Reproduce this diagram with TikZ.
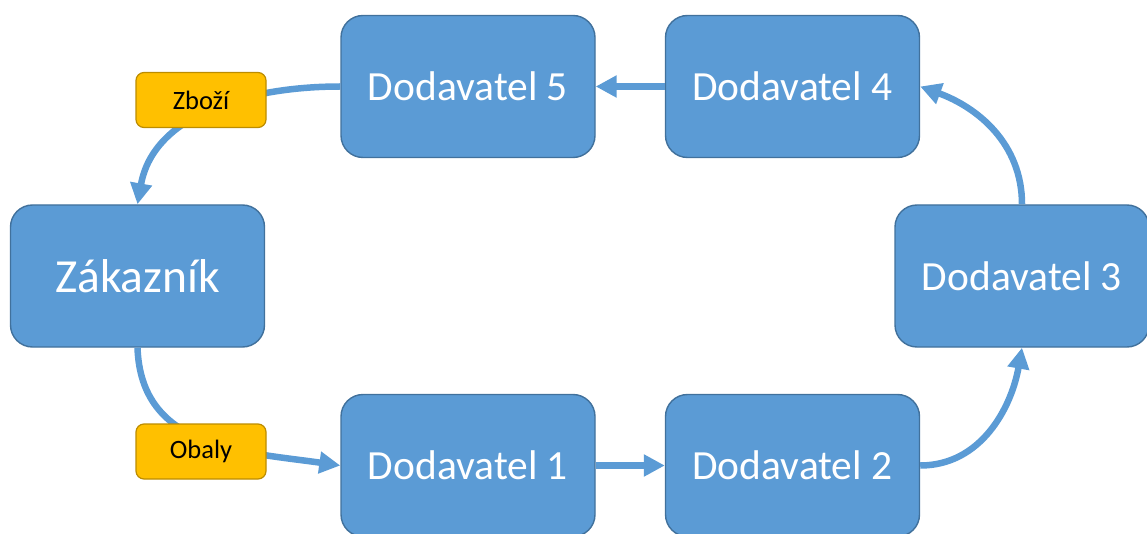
\documentclass[tikz,border=0pt]{standalone}
\usepackage{fontspec}
\setmainfont{Carlito}
\usetikzlibrary{arrows.meta}
\definecolor{boxfill}{HTML}{5B9BD5}
\definecolor{boxline}{HTML}{41719C}
\definecolor{tagfill}{HTML}{FFC000}
\definecolor{tagline}{HTML}{BC8C00}
\tikzset{
  party/.style={draw=boxline, line width=1.4pt, fill=boxfill, rounded corners=22pt,
    minimum width=254pt, minimum height=142pt, inner sep=0pt,
    text=white, font=\fontsize{41.5}{48}\selectfont},
  tag/.style={draw=tagline, line width=1.2pt, fill=tagfill, rounded corners=8pt,
    minimum width=130pt, minimum height=55pt, inner sep=0pt,
    text=black, font=\fontsize{26.5}{30}\selectfont},
  flow/.style={draw=boxfill, line width=6.5pt, -{Triangle[length=21pt,width=21pt]}}
}
\begin{document}
\begin{tikzpicture}[x=1pt,y=1pt]
\useasboundingbox (0,0) rectangle (1147,-534);
% parties
\node[party] (d5) at (468,-86.5) {Dodavatel 5};
\node[party] (d4) at (792.5,-86.5) {Dodavatel 4};
\node[party, font=\fontsize{47.5}{54}\selectfont] (zak) at (137.5,-276) {Zákazník};
\node[party] (d3) at (1022,-276) {Dodavatel 3};
\node[party] (d1) at (468,-465.5) {Dodavatel 1};
\node[party] (d2) at (792.5,-465.5) {Dodavatel 2};
% flows around the cycle
\draw[flow] (d1.east) -- (d2.west);
\draw[flow] (d2.east) to[out=0,in=-100] (d3.south);
\draw[flow] (d3.north) to[out=90,in=-20] (d4.east);
\draw[flow] (d4.west) -- (d5.east);
\draw[flow] (d5.west) to[out=180,in=80] (zak.north);
\draw[flow] (zak.south) to[out=-88,in=172,looseness=1.1] (d1.west);
% goods labels on the flows
\node[tag] (zbozi) at (201,-100) {Zboží};
\node[tag] (obaly) at (201,-451.5) {Obaly};
\end{tikzpicture}
\end{document}
